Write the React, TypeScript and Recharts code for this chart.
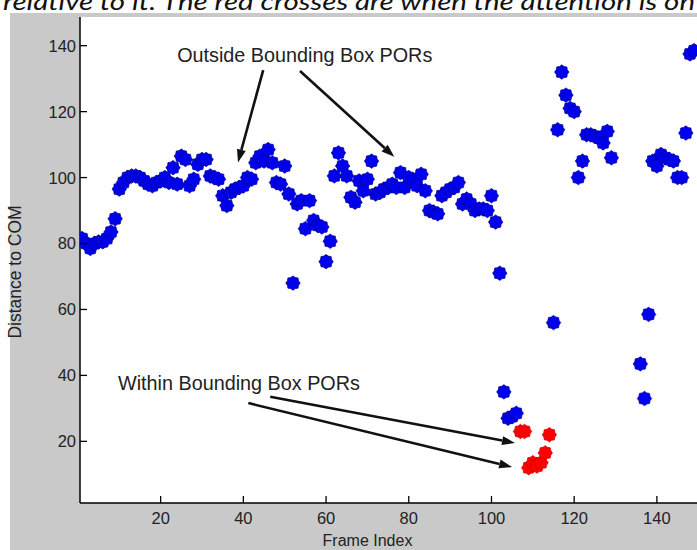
import React from 'react';
import { ScatterChart, Scatter, XAxis, YAxis, ReferenceLine, ReferenceDot } from 'recharts';

// frames / distances
const OUTSIDE_FRAMES = [
  1, 2, 3, 4, 5, 6, 7, 8, 9, 10, 11, 12, 13, 14, 15, 16, 17, 18, 19, 20,
  21, 22, 23, 24, 25, 26, 27, 28, 29, 30, 31, 32, 33, 34, 35, 36, 37, 38, 39, 40,
  41, 42, 43, 44, 45, 46, 47, 48, 49, 50, 51, 52, 53, 54, 55, 56, 57, 58, 59, 60,
  61, 62, 63, 64, 65, 66, 67, 68, 69, 70, 71, 72, 73, 74, 75, 76, 77, 78, 79, 80,
  81, 82, 83, 84, 85, 86, 87, 88, 89, 90, 91, 92, 93, 94, 95, 96, 97, 98, 99, 100,
  101, 102, 103, 104, 105, 106, 115, 116, 117, 118, 119, 120, 121, 122, 123, 124,
  125, 126, 127, 128, 129, 136, 137, 138, 139, 140, 141, 142, 143, 144, 145, 146,
  147, 148, 149,
];
const OUTSIDE_DIST = [
  81.5, 80, 78.5, 80, 80.5, 80.5, 81.5, 83.5, 87.5, 96.5, 98.5, 100, 100.5, 100.5, 100, 99, 98, 97.5, 98.5, 99,
  100, 98.5, 103, 98, 106.5, 105.5, 97.5, 99.5, 104, 105.5, 105.5, 100.5, 100, 99.5, 94.5, 91.5, 95.5, 96.5, 97, 97.5,
  100, 99.5, 104.5, 106.5, 105, 108.5, 104.5, 98.5, 98, 103.5, 95, 68, 92, 93, 84.5, 93, 87, 85.5, 85, 74.5,
  80.7, 100.5, 107.5, 103.5, 100.5, 94, 92.5, 99, 96, 99.5, 105, 95, 95.5, 96.5, 97, 98, 97, 101.5, 97, 100,
  99, 97.5, 101, 96, 90, 89.5, 89, 94.5, 95.5, 96.5, 97, 98.5, 92, 93.5, 92, 90, 90.5, 90.5, 90, 94.5,
  86.5, 71, 35, 27, 27.5, 28.5, 56, 114.5, 132, 125, 121, 120, 100, 105, 113, 113,
  112.5, 112, 110.5, 114, 106, 43.5, 33, 58.5, 105, 103.5, 107, 106, 105.5, 105, 100, 100,
  113.5, 137.5, 138.5,
];
const WITHIN_FRAMES = [107, 108, 109, 110, 111, 112, 113, 114];
const WITHIN_DIST = [23, 23, 12, 13.5, 12.5, 13.5, 16.5, 22];

const X_TICKS = [20, 40, 60, 80, 100, 120, 140];
const Y_TICKS = [20, 40, 60, 80, 100, 120, 140];

const outsideData = OUTSIDE_FRAMES.map((f, i) => ({ frame: f, dist: OUTSIDE_DIST[i] }));
const withinData = WITHIN_FRAMES.map((f, i) => ({ frame: f, dist: WITHIN_DIST[i] }));

const FONT = '"Liberation Sans", Arial, sans-serif';
const TICK_GAP = 4;

// matlab-ish star marker: filled blob with small spikes
const makeMarker = (fill: string, edge: string) => (props: any) => {
  const { cx, cy } = props;
  const pts: string[] = [];
  for (let i = 0; i < 16; i++) {
    const r = i % 2 === 0 ? 7.2 : 6;
    const a = (i * Math.PI) / 8;
    pts.push(`${cx + r * Math.cos(a)},${cy + r * Math.sin(a)}`);
  }
  return <polygon points={pts.join(' ')} fill={fill} stroke={edge} strokeWidth={0.7} />;
};

const Arrow = (props: any) => {
  const { x1, y1, x2, y2 } = props;
  const ang = Math.atan2(y2 - y1, x2 - x1);
  const len = 13;
  const w = 4.5;
  const bx = x2 - len * Math.cos(ang);
  const by = y2 - len * Math.sin(ang);
  const px = -Math.sin(ang) * w;
  const py = Math.cos(ang) * w;
  return (
    <g>
      <line x1={x1} y1={y1} x2={bx} y2={by} stroke="#111" strokeWidth={2.6} />
      <polygon points={`${x2},${y2} ${bx + px},${by + py} ${bx - px},${by - py}`} fill="#111" />
    </g>
  );
};

const makeNote = (text: string) => (props: any) => (
  <text x={props.cx} y={props.cy} fontFamily={FONT} fontSize={19.8} fill="#222">
    {text}
  </text>
);

const YTick = (props: any) => {
  const { x, y, payload } = props;
  return (
    <g>
      <line x1={x + TICK_GAP} y1={y} x2={x + TICK_GAP + 7} y2={y} stroke="#000" strokeWidth={1.3} />
      <text x={x} y={y} dy="0.36em" textAnchor="end" fontFamily={FONT} fontSize={16.5} fill="#222">
        {payload.value}
      </text>
    </g>
  );
};

const XTick = (props: any) => {
  const { x, y, payload } = props;
  const top = y - 9;
  return (
    <g>
      <line x1={x} y1={top} x2={x} y2={top - 7} stroke="#000" strokeWidth={1.3} />
      <text x={x} y={y} dy="0.71em" textAnchor="middle" fontFamily={FONT} fontSize={16.5} fill="#222">
        {payload.value}
      </text>
    </g>
  );
};

export default function App() {
  return (
    <div style={{ position: 'absolute', left: 0, top: 0, width: 697, height: 550, overflow: 'hidden', background: '#fff' }}>
      {/* figure background */}
      <div style={{ position: 'absolute', left: 10, top: 13, right: 0, bottom: 0, background: '#c9c9c9' }} />
      {/* axes background */}
      <div style={{ position: 'absolute', left: 80, top: 17, width: 617, height: 486, background: '#fff' }} />
      <svg width={697} height={14} style={{ position: 'absolute', left: 0, top: 0 }}>
        <text x={3} y={10} textLength={692} lengthAdjust="spacingAndGlyphs" fontFamily="Lato, sans-serif" fontStyle="italic" fontSize={24} fill="#111">
          relative to it. The red crosses are when the attention is on
        </text>
      </svg>
      <div style={{ position: 'absolute', left: 0, top: 0 }}>
        <ScatterChart width={697} height={550} margin={{ top: 17, right: 0, bottom: 0, left: 0 }}>
          <XAxis
            type="number"
            dataKey="frame"
            domain={[0.5, 149.7]}
            allowDataOverflow
            ticks={X_TICKS}
            height={47}
            tickSize={0}
            tickMargin={9}
            tickLine={false}
            tick={<XTick />}
            axisLine={{ stroke: '#000', strokeWidth: 1.5 }}
            label={{
              content: (p: any) => {
                const vb = p.viewBox;
                return (
                  <text x={vb.x + vb.width / 2 - 21} y={vb.y + 43} textAnchor="middle" fontFamily={FONT} fontSize={16} fill="#222">
                    Frame Index
                  </text>
                );
              },
            }}
          />
          <YAxis
            type="number"
            dataKey="dist"
            domain={[1.3, 148.7]}
            allowDataOverflow
            ticks={Y_TICKS}
            width={80}
            tickSize={0}
            tickMargin={TICK_GAP}
            tickLine={false}
            tick={<YTick />}
            axisLine={{ stroke: '#000', strokeWidth: 1.5 }}
            label={{
              content: (p: any) => {
                const vb = p.viewBox;
                const cx = vb.x + 15;
                const cy = vb.y + vb.height / 2 + 12;
                return (
                  <text x={cx} y={cy} transform={`rotate(-90, ${cx}, ${cy})`} textAnchor="middle" dominantBaseline="central" fontFamily={FONT} fontSize={17.5} fill="#222">
                    Distance to COM
                  </text>
                );
              },
            }}
          />
          <Scatter data={outsideData} shape={makeMarker('#0000ee', '#000090')} isAnimationActive={false} />
          <Scatter data={withinData} shape={makeMarker('#ff0000', '#c80000')} isAnimationActive={false} />
          <ReferenceDot x={24} y={135} r={0} shape={makeNote('Outside Bounding Box PORs')} />
          <ReferenceDot x={9.7} y={35.6} r={0} shape={makeNote('Within Bounding Box PORs')} />
          <ReferenceLine segment={[{ x: 44.8, y: 132.6 }, { x: 38.7, y: 104.6 }]} shape={<Arrow />} />
          <ReferenceLine segment={[{ x: 53.7, y: 132.3 }, { x: 76.5, y: 106.3 }]} shape={<Arrow />} />
          <ReferenceLine segment={[{ x: 46.5, y: 33.5 }, { x: 105.7, y: 19.5 }]} shape={<Arrow />} />
          <ReferenceLine segment={[{ x: 41.2, y: 31.6 }, { x: 105, y: 12.2 }]} shape={<Arrow />} />
        </ScatterChart>
      </div>
    </div>
  );
}
